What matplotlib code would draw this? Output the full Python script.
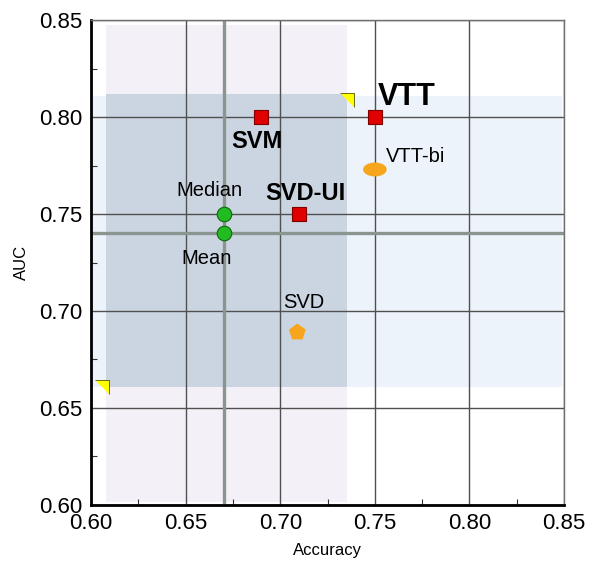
import matplotlib
matplotlib.use("Agg")
import matplotlib.pyplot as plt
from matplotlib.patches import Rectangle, Ellipse

plt.rcParams["font.family"] = ["Liberation Sans", "DejaVu Sans"]

# methods (red squares)
methods = ["SVM", "VTT", "SVD-UI"]
methods_acc = [0.69, 0.75, 0.71]
methods_auc = [0.80, 0.80, 0.75]

# variants (orange)
variants = ["VTT-bi", "SVD"]
variants_acc = [0.75, 0.709]
variants_auc = [0.773, 0.689]

# summary stats (green)
stats = ["Median", "Mean"]
stats_acc = [0.67, 0.67]
stats_auc = [0.75, 0.74]

# ranges shown as shaded bands
acc_range = [0.608, 0.735]
auc_range = [0.661, 0.812]
corner_acc = [0.735, 0.6055]
corner_auc = [0.809, 0.661]

mean_acc = 0.67
mean_auc = 0.74

xticks = [0.60, 0.65, 0.70, 0.75, 0.80, 0.85]
yticks = [0.60, 0.65, 0.70, 0.75, 0.80, 0.85]

fig = plt.figure(figsize=(6.0, 5.77), dpi=100)
ax = fig.add_axes([0.152, 0.125, 0.788, 0.840])
ax.set_xlim(0.60, 0.85)
ax.set_ylim(0.60, 0.85)

# shaded bands
ax.add_patch(Rectangle((acc_range[0], 0.6015), acc_range[1] - acc_range[0], 0.8475 - 0.6015,
                       facecolor="#f4f0f7", edgecolor="none", zorder=0))
ax.add_patch(Rectangle((0.601, auc_range[0]), 0.849 - 0.601, 0.811 - auc_range[0],
                       facecolor="#edf3fa", edgecolor="none", zorder=0.1))
ax.add_patch(Rectangle((acc_range[0], auc_range[0]), acc_range[1] - acc_range[0],
                       auc_range[1] - auc_range[0],
                       facecolor="#cbd5e1", edgecolor="none", zorder=0.2))

ax.set_xticks(xticks)
ax.set_yticks(yticks)
ax.set_xticklabels([f"{v:.2f}" for v in xticks])
ax.set_yticklabels([f"{v:.2f}" for v in yticks])
ax.set_xticks([0.625, 0.675, 0.725, 0.775, 0.825], minor=True)
ax.set_yticks([0.625, 0.675, 0.725, 0.775, 0.825], minor=True)
ax.tick_params(which="major", length=0, labelsize=16, pad=6)
ax.tick_params(which="minor", direction="in", length=4, width=0.8, color="#333333")
ax.grid(True, which="major", color="#505050", linewidth=1.0, zorder=0.5)
ax.set_axisbelow(True)

for side in ["left", "bottom"]:
    ax.spines[side].set_linewidth(2.0)
    ax.spines[side].set_color("black")
for side in ["top", "right"]:
    ax.spines[side].set_linewidth(1.0)
    ax.spines[side].set_color("#707070")

# mean lines
ax.axvline(mean_acc, color="#8a9590", linewidth=2.4, zorder=1)
ax.axhline(mean_auc, color="#8a9590", linewidth=2.4, zorder=1)

# corner markers
ax.scatter(corner_acc, corner_auc, marker=[(-1, 1), (1, 1), (1, -1)], s=110,
           facecolor="#ffff00", edgecolor="#555500", linewidth=0.6, zorder=3)

ax.scatter(methods_acc, methods_auc, marker="s", s=110, facecolor="#e00000",
           edgecolor="#800000", linewidth=0.8, zorder=4)
ax.add_patch(Ellipse((variants_acc[0], variants_auc[0]), 0.0125, 0.0072,
                     facecolor="#f7a51c", edgecolor="none", zorder=4))
ax.scatter(variants_acc[1:], variants_auc[1:], marker="p", s=160, facecolor="#f7a51c",
           edgecolor="none", zorder=4)
ax.scatter(stats_acc, stats_auc, marker="o", s=110, facecolor="#22bb22",
           edgecolor="#116611", linewidth=0.8, zorder=4)

# labels
ax.text(0.6875, 0.7935, "SVM", fontsize=17, fontweight="bold", ha="center", va="top", zorder=5)
ax.text(0.7515, 0.8025, "VTT", fontsize=22, fontweight="bold", ha="left", va="bottom", zorder=5)
ax.text(0.7135, 0.7545, "SVD-UI", fontsize=17, fontweight="bold", ha="center", va="bottom", zorder=5)
ax.text(0.756, 0.7795, "VTT-bi", fontsize=14.5, ha="left", va="center", zorder=5)
ax.text(0.7125, 0.6995, "SVD", fontsize=14.5, ha="center", va="bottom", zorder=5)
ax.text(0.6624, 0.7575, "Median", fontsize=14.5, ha="center", va="bottom", zorder=5)
ax.text(0.6608, 0.732, "Mean", fontsize=14.5, ha="center", va="top", zorder=5)

ax.set_xlabel("Accuracy", fontsize=12, labelpad=6)
ax.set_ylabel("AUC", fontsize=12, labelpad=8)

fig.savefig("out.png", dpi=100)
